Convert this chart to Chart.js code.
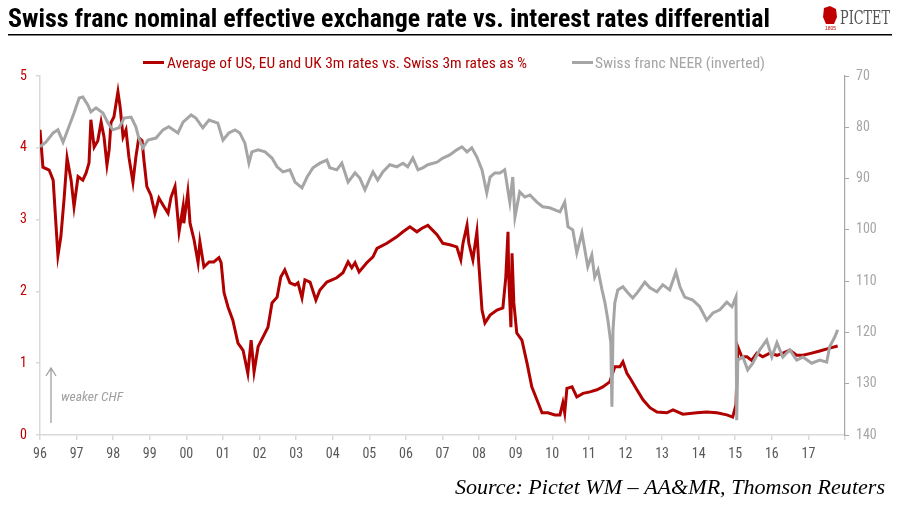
<!DOCTYPE html>
<html>
<head>
<meta charset="utf-8">
<script src="https://cdn.jsdelivr.net/npm/chart.js@4.4.1/dist/chart.umd.min.js"></script>
<style>
  body { margin: 0; background: #fff; }
  canvas { display: block; }
</style>
</head>
<body>
<canvas id="chf" width="902" height="513"></canvas>
<script>
// values (decimal years)
var redDates = [1996.00, 1996.08, 1996.25, 1996.36, 1996.44, 1996.49, 1996.57, 1996.66, 1996.74, 1996.85,
  1996.93, 1997.04, 1997.17, 1997.26, 1997.34, 1997.39, 1997.48, 1997.58, 1997.67, 1997.75,
  1997.83, 1997.89, 1997.94, 1998.02, 1998.13, 1998.19, 1998.27, 1998.35, 1998.43, 1998.54,
  1998.62, 1998.70, 1998.79, 1998.84, 1998.92, 1999.03, 1999.14, 1999.25, 1999.39, 1999.50,
  1999.58, 1999.69, 1999.80, 1999.91, 1999.93, 2000.04, 2000.10, 2000.21, 2000.32, 2000.37,
  2000.48, 2000.62, 2000.75, 2000.89, 2000.95, 2001.03, 2001.14, 2001.27, 2001.41, 2001.55,
  2001.68, 2001.77, 2001.85, 2001.96, 2002.09, 2002.23, 2002.34, 2002.48, 2002.58, 2002.69,
  2002.83, 2002.97, 2003.05, 2003.16, 2003.24, 2003.38, 2003.54, 2003.65, 2003.84, 2004.11,
  2004.28, 2004.42, 2004.52, 2004.61, 2004.72, 2004.93, 2005.10, 2005.21, 2005.48, 2005.75,
  2005.92, 2006.11, 2006.30, 2006.44, 2006.60, 2006.85, 2007.01, 2007.20, 2007.39, 2007.50,
  2007.56, 2007.67, 2007.72, 2007.83, 2007.94, 2007.99, 2008.08, 2008.16, 2008.30, 2008.49,
  2008.65, 2008.73, 2008.79, 2008.81, 2008.87, 2008.90, 2008.95, 2009.03, 2009.17, 2009.31,
  2009.44, 2009.58, 2009.72, 2009.88, 2010.07, 2010.21, 2010.29, 2010.34, 2010.40, 2010.54,
  2010.67, 2010.84, 2011.03, 2011.22, 2011.38, 2011.57, 2011.71, 2011.85, 2011.93, 2012.04,
  2012.14, 2012.30, 2012.48, 2012.67, 2012.86, 2013.13, 2013.30, 2013.57, 2013.95, 2014.22,
  2014.50, 2014.77, 2014.93, 2015.02, 2015.07, 2015.18, 2015.32, 2015.45, 2015.59, 2015.75,
  2015.95, 2016.14, 2016.30, 2016.49, 2016.68, 2016.85, 2017.09, 2017.31, 2017.58, 2017.80];
var redValues = [4.25, 3.73, 3.69, 3.55, 2.90, 2.50, 2.76, 3.30, 3.86, 3.55,
  3.18, 3.60, 3.55, 3.65, 3.79, 4.39, 4.01, 4.10, 4.36, 4.15,
  3.76, 3.97, 4.35, 4.43, 4.78, 4.57, 4.15, 4.25, 3.87, 3.52,
  3.87, 4.14, 4.10, 3.83, 3.46, 3.34, 3.09, 3.30, 3.18, 3.09,
  3.31, 3.46, 2.83, 3.18, 2.95, 3.38, 2.95, 2.72, 2.40, 2.69,
  2.34, 2.41, 2.41, 2.47, 2.40, 1.98, 1.78, 1.60, 1.28, 1.18,
  0.86, 1.32, 0.88, 1.23, 1.36, 1.50, 1.84, 1.92, 2.20, 2.30,
  2.12, 2.09, 2.12, 1.91, 2.16, 2.13, 1.88, 2.02, 2.13, 2.19,
  2.26, 2.41, 2.33, 2.40, 2.27, 2.40, 2.48, 2.60, 2.67, 2.76,
  2.83, 2.90, 2.83, 2.88, 2.92, 2.79, 2.67, 2.65, 2.62, 2.44,
  2.67, 2.92, 2.67, 2.44, 2.83, 2.40, 1.74, 1.56, 1.67, 1.74,
  1.77, 2.20, 2.83, 2.20, 1.50, 2.53, 1.84, 1.42, 1.32, 1.00,
  0.67, 0.49, 0.31, 0.31, 0.28, 0.28, 0.45, 0.31, 0.65, 0.67,
  0.53, 0.58, 0.60, 0.63, 0.67, 0.74, 0.95, 0.95, 1.02, 0.86,
  0.78, 0.64, 0.49, 0.38, 0.32, 0.31, 0.35, 0.29, 0.31, 0.32,
  0.31, 0.28, 0.25, 0.42, 1.23, 1.09, 1.09, 1.04, 1.14, 1.09,
  1.14, 1.11, 1.14, 1.18, 1.11, 1.11, 1.14, 1.17, 1.21, 1.24];

var neerDates = [1996.00, 1996.16, 1996.36, 1996.49, 1996.63, 1996.79, 1996.93, 1997.07, 1997.17, 1997.31,
  1997.39, 1997.53, 1997.72, 1997.86, 1997.99, 1998.16, 1998.30, 1998.49, 1998.62, 1998.70,
  1998.81, 1998.95, 1999.17, 1999.36, 1999.52, 1999.77, 1999.91, 2000.13, 2000.26, 2000.45,
  2000.62, 2000.86, 2001.00, 2001.16, 2001.33, 2001.46, 2001.60, 2001.71, 2001.79, 2001.96,
  2002.15, 2002.34, 2002.48, 2002.64, 2002.83, 2002.97, 2003.16, 2003.30, 2003.46, 2003.65,
  2003.84, 2003.92, 2004.11, 2004.25, 2004.42, 2004.61, 2004.74, 2004.88, 2005.02, 2005.10,
  2005.23, 2005.37, 2005.56, 2005.75, 2005.92, 2006.05, 2006.19, 2006.33, 2006.46, 2006.60,
  2006.85, 2007.01, 2007.20, 2007.39, 2007.53, 2007.67, 2007.80, 2007.94, 2008.08, 2008.21,
  2008.30, 2008.43, 2008.57, 2008.70, 2008.84, 2008.92, 2008.98, 2009.11, 2009.25, 2009.39,
  2009.58, 2009.74, 2009.93, 2010.07, 2010.21, 2010.34, 2010.43, 2010.56, 2010.67, 2010.81,
  2010.89, 2010.97, 2011.08, 2011.16, 2011.25, 2011.36, 2011.44, 2011.52, 2011.60, 2011.63,
  2011.66, 2011.71, 2011.79, 2011.93, 2012.07, 2012.20, 2012.34, 2012.53, 2012.67, 2012.86,
  2013.02, 2013.21, 2013.38, 2013.49, 2013.62, 2013.84, 2014.03, 2014.22, 2014.39, 2014.58,
  2014.77, 2014.91, 2015.02, 2015.04, 2015.07, 2015.21, 2015.34, 2015.48, 2015.67, 2015.86,
  2016.00, 2016.14, 2016.30, 2016.49, 2016.68, 2016.85, 2017.09, 2017.31, 2017.50, 2017.58,
  2017.72, 2017.80];
var neerValues = [83.8, 82.9, 81.1, 80.5, 82.9, 79.9, 77.2, 74.3, 74.1, 75.7,
  77.0, 76.2, 77.2, 79.2, 80.5, 80.1, 78.2, 78.0, 79.9, 82.1,
  84.0, 82.5, 82.1, 80.5, 79.9, 81.1, 79.0, 77.6, 78.2, 80.1,
  78.6, 79.2, 82.5, 81.1, 80.5, 81.1, 83.1, 87.0, 84.8, 84.4,
  84.8, 86.0, 87.7, 88.7, 88.3, 90.7, 91.8, 89.7, 87.9, 87.0,
  86.4, 87.9, 88.3, 87.0, 90.7, 88.9, 89.9, 92.2, 89.9, 88.7,
  90.3, 88.7, 87.3, 87.7, 87.0, 87.7, 86.0, 88.3, 87.9, 87.3,
  86.8, 86.0, 85.4, 84.4, 83.8, 84.8, 84.0, 85.8, 88.3, 92.8,
  89.7, 88.9, 88.9, 88.3, 94.6, 89.7, 97.5, 92.6, 93.6, 93.2,
  94.6, 95.5, 95.7, 96.1, 96.5, 94.6, 99.4, 100.0, 104.5, 100.6,
  103.9, 107.2, 104.9, 109.2, 107.8, 111.7, 114.2, 117.6, 122.0, 134.5,
  119.5, 114.2, 111.7, 111.1, 112.3, 113.3, 112.1, 110.2, 111.3, 112.1,
  110.7, 111.7, 108.2, 111.1, 113.1, 113.7, 115.0, 117.6, 116.2, 115.6,
  114.1, 115.0, 113.1, 137.1, 125.4, 124.8, 127.3, 126.0, 123.4, 121.5,
  124.8, 122.0, 124.8, 123.4, 125.4, 124.8, 126.0, 125.4, 125.8, 122.8,
  120.9, 119.5];

var yearLabels = ['96', '97', '98', '99', '00', '01', '02', '03', '04', '05', '06',
  '07', '08', '09', '10', '11', '12', '13', '14', '15', '16', '17', ''];
var leftTicks = [0, 1, 2, 3, 4, 5];
var rightTicks = [70, 80, 90, 100, 110, 120, 130, 140];

var RED = '#b00000';
var GREY = '#a5a5a5';
var narrow = '"Roboto Condensed", "Liberation Sans Narrow", "DejaVu Sans Condensed", "Open Sans", sans-serif';

function toPoints(xs, ys) {
  return xs.map(function (x, i) { return { x: x, y: ys[i] }; });
}

// draw text squeezed/stretched to a given width
function fitText(ctx, text, x, y, w) {
  var m = ctx.measureText(text).width;
  ctx.save();
  ctx.translate(x, y);
  ctx.scale(w / m, 1);
  ctx.textAlign = 'left';
  ctx.fillText(text, 0, 0);
  ctx.restore();
}

var decor = {
  id: 'decor',
  beforeDraw: function (chart) {
    var ctx = chart.ctx;
    ctx.save();
    ctx.fillStyle = '#fff';
    ctx.fillRect(0, 0, chart.width, chart.height);
    ctx.restore();
  },
  afterDraw: function (chart) {
    var ctx = chart.ctx;
    var ds = chart.data.datasets;
    ctx.save();
    ctx.textBaseline = 'alphabetic';

    // title + rule
    ctx.fillStyle = '#000';
    ctx.font = 'bold 26px ' + narrow;
    fitText(ctx, 'Swiss franc nominal effective exchange rate vs. interest rates differential', 8, 27, 762);
    ctx.fillRect(8, 34, 884, 1.5);

    // logo
    ctx.fillStyle = '#c00000';
    ctx.beginPath();
    ctx.moveTo(824, 8); ctx.lineTo(830, 6); ctx.lineTo(836, 9); ctx.lineTo(837, 17);
    ctx.lineTo(834, 24); ctx.lineTo(826, 24); ctx.lineTo(823, 17);
    ctx.closePath();
    ctx.fill();
    ctx.font = '5px sans-serif';
    ctx.fillText('1805', 825, 30);
    ctx.fillStyle = '#555';
    ctx.font = '18px "DejaVu Serif", "Liberation Serif", serif';
    fitText(ctx, 'PICTET', 840, 24, 50);

    // legend
    ctx.font = '15px ' + narrow;
    ctx.fillStyle = RED;
    ctx.fillRect(143, 61, 21, 3);
    fitText(ctx, ds[0].label, 167, 68, 360);
    ctx.fillStyle = GREY;
    ctx.fillRect(572, 61, 21, 3);
    fitText(ctx, ds[1].label, 595, 68, 170);

    // weaker CHF arrow
    ctx.strokeStyle = '#a0a0a0';
    ctx.lineWidth = 1.3;
    ctx.beginPath();
    ctx.moveTo(51, 423); ctx.lineTo(51, 368);
    ctx.moveTo(46, 376); ctx.lineTo(51, 368); ctx.lineTo(56, 376);
    ctx.stroke();
    ctx.fillStyle = '#a0a0a0';
    ctx.font = 'italic 12px ' + narrow;
    fitText(ctx, 'weaker CHF', 61, 401, 62);

    // source
    ctx.fillStyle = '#000';
    ctx.font = 'italic 20px "Liberation Serif", "DejaVu Serif", serif';
    fitText(ctx, 'Source: Pictet WM \u2013 AA&MR, Thomson Reuters', 455, 494, 430);
    ctx.restore();
  }
};

var ctx = document.getElementById('chf');
var chfChart = new Chart(ctx, {
  type: 'line',
  data: {
    datasets: [{
      label: 'Average of US, EU and UK 3m rates vs. Swiss 3m rates as %',
      data: toPoints(redDates, redValues),
      borderColor: RED,
      borderWidth: 3,
      pointRadius: 0,
      tension: 0,
      yAxisID: 'y',
      order: 2
    }, {
      label: 'Swiss franc NEER (inverted)',
      data: toPoints(neerDates, neerValues),
      borderColor: GREY,
      borderWidth: 3,
      pointRadius: 0,
      tension: 0,
      yAxisID: 'y2',
      order: 1
    }]
  },
  options: {
    responsive: false,
    animation: false,
    layout: { padding: { top: 76, left: 0, right: 0, bottom: 0 } },
    plugins: {
      legend: { display: false },
      tooltip: { enabled: false }
    },
    scales: {
      x: {
        type: 'linear',
        min: 1996,
        max: 2018,
        afterFit: function (s) { s.height = 78; },
        afterBuildTicks: function (s) {
          s.ticks = yearLabels.map(function (l, i) { return { value: 1996 + i }; });
        },
        ticks: {
          autoSkip: false,
          maxRotation: 0,
          padding: 6,
          color: '#595959',
          font: { family: narrow, size: 14 },
          callback: function (v, i) { return yearLabels[i]; }
        },
        grid: { drawOnChartArea: false, color: '#d9d9d9', tickLength: 5, lineWidth: 1.5 },
        border: { color: '#d9d9d9', width: 1.5 }
      },
      y: {
        position: 'left',
        min: 0,
        max: 5,
        afterFit: function (s) { s.width = 40; },
        afterBuildTicks: function (s) {
          s.ticks = leftTicks.map(function (v) { return { value: v }; });
        },
        ticks: { padding: 9, color: '#c00000', font: { family: narrow, size: 14 } },
        grid: { drawOnChartArea: false, color: '#d9d9d9', tickLength: 4, lineWidth: 1.5 },
        border: { color: '#d9d9d9', width: 1.5 }
      },
      y2: {
        position: 'right',
        reverse: true,
        min: 70,
        max: 140,
        afterFit: function (s) { s.width = 57; },
        afterBuildTicks: function (s) {
          s.ticks = rightTicks.map(function (v) { return { value: v }; });
        },
        ticks: { padding: 7, color: '#a6a6a6', font: { family: narrow, size: 14 } },
        grid: { drawOnChartArea: false, color: '#a6a6a6', tickLength: 4 },
        border: { color: '#a6a6a6', width: 1.2 }
      }
    }
  },
  plugins: [decor]
});
</script>
</body>
</html>
